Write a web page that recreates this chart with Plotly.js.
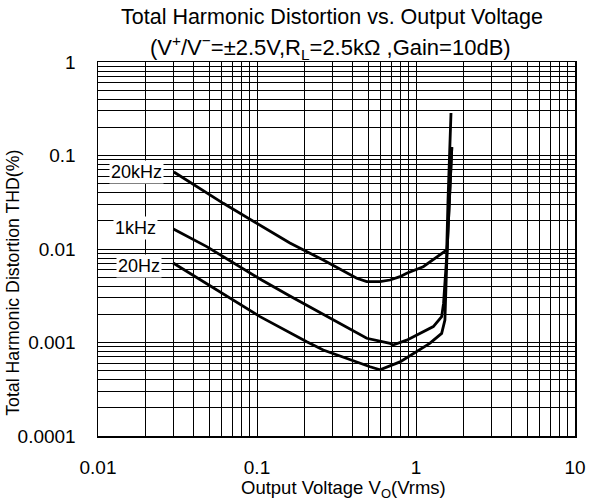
<!DOCTYPE html>
<html>
<head>
<meta charset="utf-8">
<script src="https://cdn.plot.ly/plotly-3.0.1.min.js"></script>
<style>html,body{margin:0;padding:0;background:#fff;}</style>
</head>
<body>
<div id="chart" style="width:597px;height:502px;"></div>
<script>
// Output voltage (Vrms) and THD (%)
const vo20k  = [0.030, 0.0614, 0.161, 0.261, 0.424, 0.490, 0.594, 0.686, 0.793, 0.874, 1.11, 1.35, 1.56, 1.59, 1.66];
const thd20k = [0.0666, 0.0308, 0.0116, 0.00762, 0.00486, 0.00447, 0.00447, 0.00466, 0.00506, 0.00550, 0.00647, 0.00827, 0.00976, 0.0334, 0.285];

const vo1k  = [0.0298, 0.0483, 0.107, 0.140, 0.161, 0.490, 0.686, 0.716, 0.874, 1.285, 1.45, 1.49, 1.57, 1.68];
const thd1k = [0.0164, 0.0106, 0.00466, 0.00364, 0.00314, 0.00111, 0.00098, 0.00094, 0.00106, 0.00148, 0.00189, 0.00262, 0.0098, 0.123];

const vo20  = [0.0297, 0.0644, 0.1045, 0.2056, 0.261, 0.514, 0.594, 0.793, 1.22, 1.45, 1.52, 1.57, 1.68];
const thd20 = [0.00708, 0.00311, 0.00189, 0.00102, 0.00083, 0.00055, 0.00051, 0.00062, 0.00098, 0.00125, 0.00174, 0.0098, 0.123];

const seriesNames = ['20kHz', '1kHz', '20Hz'];
const labelX = [0.0175, 0.0173, 0.0180];
const labelY = [0.0666, 0.0168, 0.0066];

const xTickVals = [0.01, 0.1, 1, 10];
const xTickText = ['0.01', '0.1', '1', '10'];
const yTickVals = [1, 0.1, 0.01, 0.001, 0.0001];
const yTickText = ['1', '0.1', '0.01', '0.001', '0.0001'];

const lineStyle = {color: '#000', width: 2.8};
const traces = [
  {x: vo20k, y: thd20k, name: seriesNames[0], mode: 'lines', line: lineStyle},
  {x: vo1k, y: thd1k, name: seriesNames[1], mode: 'lines', line: lineStyle},
  {x: vo20, y: thd20, name: seriesNames[2], mode: 'lines', line: lineStyle}
];

const font = 'Liberation Sans, Arial, sans-serif';
const minorGrid = {dtick: 'D1', showgrid: true, gridcolor: '#000', gridwidth: 1, ticks: ''};

const layout = {
  width: 597, height: 502,
  margin: {l: 98, r: 22, t: 62, b: 66},
  paper_bgcolor: '#fff', plot_bgcolor: '#fff',
  showlegend: false,
  font: {family: font, color: '#000', size: 18},
  xaxis: {
    type: 'log', range: [-2, 1],
    tickmode: 'array', tickvals: xTickVals, ticktext: xTickText,
    ticks: '', ticklabelstandoff: 14,
    showgrid: true, gridcolor: '#000', gridwidth: 1,
    minor: minorGrid,
    showline: true, linecolor: '#000', linewidth: 1.5, mirror: true,
    zeroline: false,
    tickfont: {family: font, size: 19, color: '#000'}
  },
  yaxis: {
    type: 'log', range: [-4, 0],
    tickmode: 'array', tickvals: yTickVals, ticktext: yTickText,
    ticks: '', ticklabelstandoff: 17,
    showgrid: true, gridcolor: '#000', gridwidth: 1,
    minor: minorGrid,
    showline: true, linecolor: '#000', linewidth: 1.5, mirror: true,
    zeroline: false,
    tickfont: {family: font, size: 19, color: '#000'}
  },
  annotations: [
    {xref: 'paper', yref: 'paper', x: 0.49, y: 1.119, xanchor: 'center', yanchor: 'middle', showarrow: false,
     text: 'Total Harmonic Distortion vs. Output Voltage', font: {family: font, size: 21.5, color: '#000'}},
    {xref: 'paper', yref: 'paper', x: 0.488, y: 1.040, xanchor: 'center', yanchor: 'middle', showarrow: false,
     text: '(V<sup>+</sup>/V<sup>−</sup>=±2.5V,R<sub>L</sub>=2.5kΩ ,Gain=10dB)', font: {family: font, size: 22, color: '#000'}},
    {xref: 'paper', yref: 'paper', x: 0.514, y: -0.142, xanchor: 'center', yanchor: 'middle', showarrow: false,
     text: 'Output Voltage V<sub>O</sub>(Vrms)', font: {family: font, size: 18.5, color: '#000'}},
    {xref: 'paper', yref: 'paper', x: -0.178, y: 0.41, xanchor: 'center', yanchor: 'middle', showarrow: false, textangle: -90,
     text: 'Total Harmonic Distortion THD(%)', font: {family: font, size: 17.7, color: '#000'}}
  ].concat(seriesNames.map((n, i) => ({
    x: Math.log10(labelX[i]), y: Math.log10(labelY[i]), xref: 'x', yref: 'y',
    xanchor: 'center', yanchor: 'middle',
    text: n, showarrow: false, bgcolor: '#fff', borderpad: 1,
    font: {family: font, size: 18, color: '#000'}
  })))
};

Plotly.newPlot('chart', traces, layout, {staticPlot: true, displayModeBar: false});
</script>
</body>
</html>
